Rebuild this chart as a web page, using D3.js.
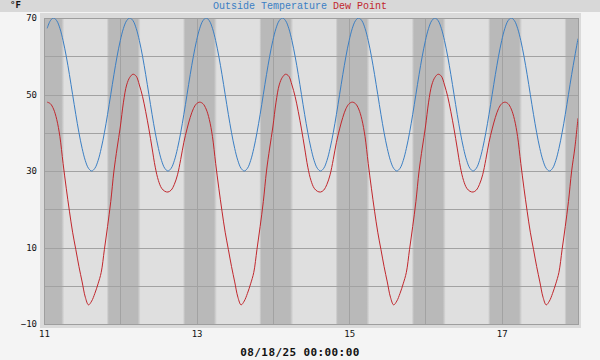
<!DOCTYPE html>
<html>
<head>
<meta charset="utf-8">
<script src="https://cdn.jsdelivr.net/npm/d3@7"></script>
<style>
  html, body { margin: 0; padding: 0; background: #f4f4f4; }
  svg { display: block; }
</style>
</head>
<body>
<svg id="chart" width="600" height="360"></svg>
<script>
// ---------------- data ----------------
const titleParts = ["Outside Temperature", "Dew Point"];
const unitLabel = "°F";
const footerLabel = "08/18/25 00:00:00";
const firstReading = "2025-08-11T01:00:00";
const readingStepHours = 1;

const temperature = [
  67.3,69.3,70.0,69.3,67.3,64.1,60.0,55.2,50.0,44.8,40.0,35.9,32.7,30.7,30.0,30.7,32.7,35.9,40.0,44.8,50.0,55.2,60.0,64.1,
  67.3,69.3,70.0,69.3,67.3,64.1,60.0,55.2,50.0,44.8,40.0,35.9,32.7,30.7,30.0,30.7,32.7,35.9,40.0,44.8,50.0,55.2,60.0,64.1,
  67.3,69.3,70.0,69.3,67.3,64.1,60.0,55.2,50.0,44.8,40.0,35.9,32.7,30.7,30.0,30.7,32.7,35.9,40.0,44.8,50.0,55.2,60.0,64.1,
  67.3,69.3,70.0,69.3,67.3,64.1,60.0,55.2,50.0,44.8,40.0,35.9,32.7,30.7,30.0,30.7,32.7,35.9,40.0,44.8,50.0,55.2,60.0,64.1,
  67.3,69.3,70.0,69.3,67.3,64.1,60.0,55.2,50.0,44.8,40.0,35.9,32.7,30.7,30.0,30.7,32.7,35.9,40.0,44.8,50.0,55.2,60.0,64.1,
  67.3,69.3,70.0,69.3,67.3,64.1,60.0,55.2,50.0,44.8,40.0,35.9,32.7,30.7,30.0,30.7,32.7,35.9,40.0,44.8,50.0,55.2,60.0,64.1,
  67.3,69.3,70.0,69.3,67.3,64.1,60.0,55.2,50.0,44.8,40.0,35.9,32.7,30.7,30.0,30.7,32.7,35.9,40.0,44.8,50.0,55.2,60.0,64.6
];

const dewPoint = [
  48.0,47.6,46.2,43.5,39.0,32.0,25.5,19.5,14.0,9.5,5.0,1.0,-3.0,-5.0,-4.0,-2.0,0.5,3.5,9.5,15.5,22.0,30.0,36.0,41.5,
  48.0,52.5,54.5,55.3,54.8,52.5,49.5,45.5,41.0,36.0,31.0,27.5,25.5,24.7,24.5,25.0,26.5,29.0,33.0,37.5,41.0,44.0,46.3,47.6,
  48.0,47.6,46.2,43.5,39.0,32.0,25.5,19.5,14.0,9.5,5.0,1.0,-3.0,-5.0,-4.0,-2.0,0.5,3.5,9.5,15.5,22.0,30.0,36.0,41.5,
  48.0,52.5,54.5,55.3,54.8,52.5,49.5,45.5,41.0,36.0,31.0,27.5,25.5,24.7,24.5,25.0,26.5,29.0,33.0,37.5,41.0,44.0,46.3,47.6,
  48.0,47.6,46.2,43.5,39.0,32.0,25.5,19.5,14.0,9.5,5.0,1.0,-3.0,-5.0,-4.0,-2.0,0.5,3.5,9.5,15.5,22.0,30.0,36.0,41.5,
  48.0,52.5,54.5,55.3,54.8,52.5,49.5,45.5,41.0,36.0,31.0,27.5,25.5,24.7,24.5,25.0,26.5,29.0,33.0,37.5,41.0,44.0,46.3,47.6,
  48.0,47.6,46.2,43.5,39.0,32.0,25.5,19.5,14.0,9.5,5.0,1.0,-3.0,-5.0,-4.0,-2.0,0.5,3.5,9.5,15.5,22.0,30.0,36.0,43.8
];

const yGridValues = [-10, 0, 10, 20, 30, 40, 50, 60, 70];
const yTickLabels = [-10, 10, 30, 50, 70];
const xTickLabels = ["11", "13", "15", "17"];
const midnights = ["2025-08-11","2025-08-12","2025-08-13","2025-08-14","2025-08-15","2025-08-16","2025-08-17","2025-08-18"];
// night shading relative to each midnight (hours)
const twilightBegin = [-4.3];
const darkBegin = [-3.6];
const darkEnd = [5.45];
const twilightEnd = [6.4];

// ---------------- layout ----------------
const svg = d3.select("#chart");
const W = 600, H = 360;
const plot = { left: 44, right: 578, top: 18, bottom: 324 };

const parseDay = d3.timeParse("%Y-%m-%d");
const parseTime = d3.timeParse("%Y-%m-%dT%H:%M:%S");
const t0 = parseTime(firstReading);
const times = temperature.map((_, i) => d3.timeHour.offset(t0, i * readingStepHours));

const x = d3.scaleTime()
  .domain([parseDay("2025-08-11"), parseDay("2025-08-18")])
  .range([plot.left, plot.right]);
const y = d3.scaleLinear().domain([-10, 70]).range([plot.bottom, plot.top]);

const px = v => Math.round(v) + 0.5;

// background pieces
svg.append("rect").attr("x", 0).attr("y", 0).attr("width", W).attr("height", H).attr("fill", "#f4f4f4");
svg.append("rect").attr("x", 0).attr("y", 0).attr("width", W).attr("height", 12).attr("fill", "#d8d8d8");
svg.append("rect").attr("x", 40).attr("y", 13).attr("width", 541).attr("height", 315).attr("fill", "#dadada");
svg.append("rect").attr("x", plot.left).attr("y", plot.top)
  .attr("width", plot.right - plot.left).attr("height", plot.bottom - plot.top).attr("fill", "#dfdfdf");

const defs = svg.append("defs");
defs.append("clipPath").attr("id", "plotClip").append("rect")
  .attr("x", plot.left).attr("y", plot.top)
  .attr("width", plot.right - plot.left).attr("height", plot.bottom - plot.top);

const span = twilightEnd[0] - twilightBegin[0];
const grad = defs.append("linearGradient").attr("id", "nightGrad")
  .attr("x1", 0).attr("x2", 1).attr("y1", 0).attr("y2", 0);
grad.append("stop").attr("offset", 0).attr("stop-color", "#dfdfdf");
grad.append("stop").attr("offset", (darkBegin[0] - twilightBegin[0]) / span).attr("stop-color", "#b9b9b9");
grad.append("stop").attr("offset", (darkEnd[0] - twilightBegin[0]) / span).attr("stop-color", "#b9b9b9");
grad.append("stop").attr("offset", 1).attr("stop-color", "#dfdfdf");

const g = svg.append("g").attr("clip-path", "url(#plotClip)");
g.selectAll("rect.night").data(midnights).join("rect")
  .attr("class", "night")
  .attr("x", d => x(d3.timeMinute.offset(parseDay(d), twilightBegin[0] * 60)))
  .attr("width", d => x(d3.timeMinute.offset(parseDay(d), twilightEnd[0] * 60)) - x(d3.timeMinute.offset(parseDay(d), twilightBegin[0] * 60)))
  .attr("y", plot.top).attr("height", plot.bottom - plot.top)
  .attr("fill", "url(#nightGrad)");

// grid
const gridColor = "#a2a2a2";
svg.selectAll("line.hgrid").data(yGridValues).join("line")
  .attr("class", "hgrid")
  .attr("x1", plot.left).attr("x2", plot.right)
  .attr("y1", d => px(y(d))).attr("y2", d => px(y(d)))
  .attr("stroke", gridColor).attr("stroke-width", 1);
svg.selectAll("line.vgrid").data(midnights).join("line")
  .attr("class", "vgrid")
  .attr("x1", d => px(x(parseDay(d)))).attr("x2", d => px(x(parseDay(d))))
  .attr("y1", plot.top).attr("y2", plot.bottom)
  .attr("stroke", gridColor).attr("stroke-width", 1);
svg.append("rect")
  .attr("x", plot.left + 0.5).attr("y", plot.top + 0.5)
  .attr("width", plot.right - plot.left).attr("height", plot.bottom - plot.top)
  .attr("fill", "none").attr("stroke", "#9e9e9e").attr("stroke-width", 1);

// series
const line = (vals) => d3.line()
  .x((d, i) => x(times[i]))
  .y(d => y(d))
  .curve(d3.curveCatmullRom.alpha(0.5))(vals);

const lines = svg.append("g").attr("clip-path", "url(#plotClip)");
lines.append("path").attr("d", line(temperature))
  .attr("fill", "none").attr("stroke", "#3b7fc4").attr("stroke-width", 1);
lines.append("path").attr("d", line(dewPoint))
  .attr("fill", "none").attr("stroke", "#c1272d").attr("stroke-width", 1);

// axes text
const yAxis = d3.axisLeft(y).tickValues(yTickLabels).tickSize(0).tickPadding(7)
  .tickFormat(d => d < 0 ? "\u2212" + Math.abs(d) : d);
const ya = svg.append("g").attr("transform", `translate(${plot.left},0)`).call(yAxis);
ya.select(".domain").remove();
ya.selectAll("text").attr("font-family", "DejaVu Sans Mono").attr("font-size", 9)
  .attr("fill", "#111").attr("x", -7);

const xLabelDates = xTickLabels.map(d => parseDay("2025-08-" + d));
const xAxis = d3.axisBottom(x).tickValues(xLabelDates).tickSize(0).tickPadding(7)
  .tickFormat(d3.timeFormat("%d"));
const xa = svg.append("g").attr("transform", `translate(0,${plot.bottom})`).call(xAxis);
xa.select(".domain").remove();
xa.selectAll("text").attr("font-family", "DejaVu Sans Mono").attr("font-size", 9).attr("fill", "#111");

// title
const title = svg.append("text").attr("x", 300).attr("y", 8.5)
  .attr("text-anchor", "middle").attr("font-family", "Liberation Mono").attr("font-size", 10);
title.append("tspan").attr("fill", "#3b7fc4").text(titleParts[0]);
title.append("tspan").attr("fill", "#c1272d").text(" " + titleParts[1]);

svg.append("text").attr("x", 10).attr("y", 8).attr("font-family", "DejaVu Sans Mono")
  .attr("font-size", 9).attr("font-weight", "bold").attr("fill", "#111").text(unitLabel);

svg.append("text").attr("x", 300).attr("y", 355.5).attr("text-anchor", "middle")
  .attr("font-family", "DejaVu Sans Mono").attr("font-size", 11).attr("font-weight", "bold")
  .attr("letter-spacing", 0.4).attr("fill", "#111").text(footerLabel);
</script>
</body>
</html>
